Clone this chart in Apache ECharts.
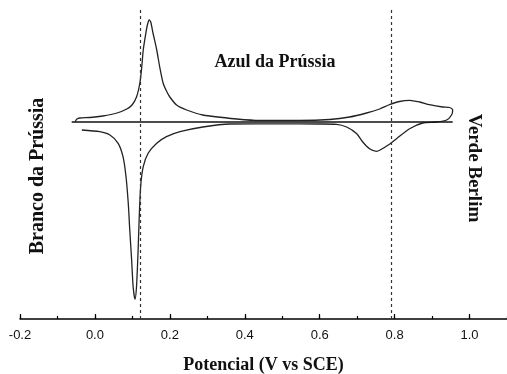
<!DOCTYPE html>
<html>
<head>
<meta charset="utf-8">
<script src="https://cdn.jsdelivr.net/npm/echarts@6/dist/echarts.min.js"></script>
<style>html,body{margin:0;padding:0;background:#fff}#c{width:507px;height:374px}</style>
</head>
<body>
<div id="c"></div>
<script>
// Cyclic voltammogram (arbitrary current units)
const cvPotential = [
  -0.053,-0.048,-0.040,-0.013,0.021,0.059,0.085,0.099,0.111,0.120,0.125,0.129,0.136,0.140,0.145,0.149,0.155,0.165,0.173,0.182,0.191,0.200,0.218,0.245,0.288,0.379,0.440,0.547,0.627,0.680,0.725,0.760,0.784,0.813,0.840,0.867,0.893,0.928,0.947,0.955,0.952,0.939,0.912,
  0.875,0.840,0.805,0.784,0.760,0.752,0.733,0.715,0.699,0.672,0.645,0.600,0.493,0.360,0.288,0.227,0.191,0.165,0.142,0.129,0.122,0.118,0.115,0.111,0.107,0.102,0.098,0.093,0.089,0.083,0.075,0.062,0.040,0.013,-0.035
];
const cvCurrent = [
  0.3,3,4,4.5,6,9,13,17,25,39,55,72,89,97,102,100,89,72,55,39,31,25,17,12,7,3,1.5,1.5,2.5,5,9,13,17,20.5,21.7,20,17.3,15,14.5,12,7,2,0,
  -1,-6.7,-16.7,-22.7,-28.3,-29.3,-26.7,-20,-11.7,-5,-2.3,-2,-1.8,-2,-5,-9.7,-14.7,-21.3,-31.3,-44.7,-64.7,-98,-131.3,-164.7,-177.3,-164.7,-138,-108,-81.3,-54.7,-34.7,-21.3,-13,-9.7,-8
];
const baselinePotential = [-0.062, 0.955];
const baselineCurrent = [0, 0];
const dashedPotentials = [0.124, 0.785];
const xTicks = [-0.2, 0.0, 0.2, 0.4, 0.6, 0.8, 1.0];
const stateLabels = ['Azul da Prússia', 'Branco da Prússia', 'Verde Berlim'];
const xTitle = 'Potencial (V vs SCE)';

const cvData = cvPotential.map((v, i) => [v, cvCurrent[i]]);
const baseData = baselinePotential.map((v, i) => [v, baselineCurrent[i]]);

const chart = echarts.init(document.getElementById('c'), null, {renderer: 'canvas'});
const serif = '"Liberation Serif", "DejaVu Serif", serif';
chart.setOption({
  animation: false,
  backgroundColor: '#fff',
  grid: {left: 20, right: 0, top: 10, bottom: 55, containLabel: false, outerBoundsMode: 'none'},
  xAxis: [{
    type: 'value', min: -0.2, max: 1.1, interval: 0.2,
    axisLine: {show: true, onZero: false, lineStyle: {color: '#000', width: 1.5}},
    axisTick: {show: true, inside: true, length: 5, lineStyle: {color: '#000', width: 1.2}},
    axisLabel: {
      show: true, margin: 10, color: '#111', fontSize: 13,
      fontFamily: '"Liberation Sans", Arial, sans-serif',
      showMaxLabel: false, showMinLabel: true,
      formatter: v => xTicks.some(t => Math.abs(t - v) < 1e-6) ? v.toFixed(1) : ''
    },
    splitLine: {show: false},
    name: xTitle, nameLocation: 'middle', nameGap: 37,
    nameTextStyle: {fontFamily: serif, fontWeight: 'bold', fontSize: 18, color: '#111'}
  }, {
    type: 'value', min: -0.2, max: 1.1, interval: 0.1, position: 'bottom',
    axisLine: {show: false, onZero: false},
    axisTick: {show: true, inside: true, length: 3, lineStyle: {color: '#000', width: 1.2}},
    axisLabel: {show: false},
    splitLine: {show: false}
  }],
  yAxis: {type: 'value', min: -197, max: 112, show: false, splitLine: {show: false}},
  series: [{
    type: 'line', data: cvData, showSymbol: false, symbol: 'none', smooth: 0.25,
    lineStyle: {color: '#222', width: 1.3},
    markLine: {
      silent: true, symbol: 'none', label: {show: false},
      lineStyle: {color: '#333', type: [3, 3], width: 1.2},
      data: dashedPotentials.map(p => ({xAxis: p}))
    }
  }, {
    type: 'line', data: baseData, showSymbol: false, symbol: 'none',
    lineStyle: {color: '#111', width: 1.5}
  }],
  graphic: [{
    type: 'text', x: 275, y: 62,
    style: {text: stateLabels[0], font: 'bold 18px ' + serif, fill: '#111', align: 'center', verticalAlign: 'middle'}
  }, {
    type: 'text', x: 38, y: 176, rotation: Math.PI / 2,
    style: {text: stateLabels[1], font: 'bold 20px ' + serif, fill: '#111', align: 'center', verticalAlign: 'middle'}
  }, {
    type: 'text', x: 474, y: 168, rotation: -Math.PI / 2,
    style: {text: stateLabels[2], font: 'bold 19px ' + serif, fill: '#111', align: 'center', verticalAlign: 'middle'}
  }]
});
</script>
</body>
</html>
